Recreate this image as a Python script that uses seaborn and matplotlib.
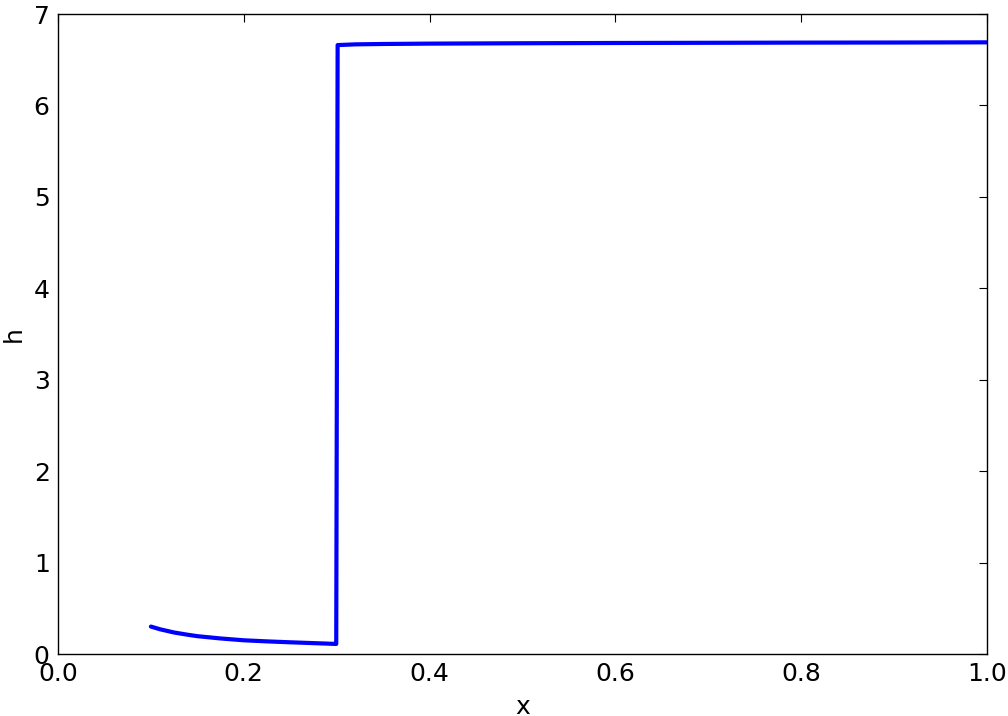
import numpy as np
import pandas as pd
import matplotlib
matplotlib.use("Agg")
import matplotlib.pyplot as plt
import seaborn as sns

x_values = [0.1, 0.11, 0.125, 0.14, 0.15, 0.175, 0.2, 0.225, 0.25, 0.275, 0.299, 0.2995, 0.301, 0.32, 0.35, 0.4, 0.5, 0.6, 0.7, 0.8, 0.9, 1.0]
h_values = [0.30, 0.27, 0.235, 0.21, 0.195, 0.17, 0.15, 0.138, 0.128, 0.119, 0.11, 0.11, 6.66, 6.668, 6.672, 6.676, 6.68, 6.683, 6.685, 6.687, 6.688, 6.69]

df = pd.DataFrame({"x": x_values, "h": h_values})

sns.set_style("white")
plt.rcParams.update({
    "font.family": ["DejaVu Sans"],
    "xtick.direction": "in",
    "ytick.direction": "in",
    "xtick.top": True,
    "ytick.right": True,
    "xtick.major.size": 6,
    "ytick.major.size": 6,
    "axes.edgecolor": "black",
    "axes.labelcolor": "black",
    "text.color": "black",
    "xtick.color": "black",
    "ytick.color": "black",
    "axes.linewidth": 1.0,
})

fig = plt.figure(figsize=(10.08, 7.16), dpi=100)
ax = fig.add_axes([58/1008, 1-654/716, (987-58)/1008, (654-14)/716])
sns.lineplot(data=df, x="x", y="h", ax=ax, color="#0000ff", linewidth=3, sort=False)
ax.set_xlim(0, 1)
ax.set_ylim(0, 7)
ax.set_xticks(np.arange(0, 1.01, 0.2))
ax.set_xticklabels(["0.0", "0.2", "0.4", "0.6", "0.8", "1.0"])
ax.set_yticks(range(0, 8))
ax.tick_params(labelsize=18, pad=6, colors="black")
ax.set_xlabel("x", fontsize=18, labelpad=6, color="black")
ax.set_ylabel("h", fontsize=18, labelpad=6, color="black")
fig.savefig("out.png", dpi=100)
